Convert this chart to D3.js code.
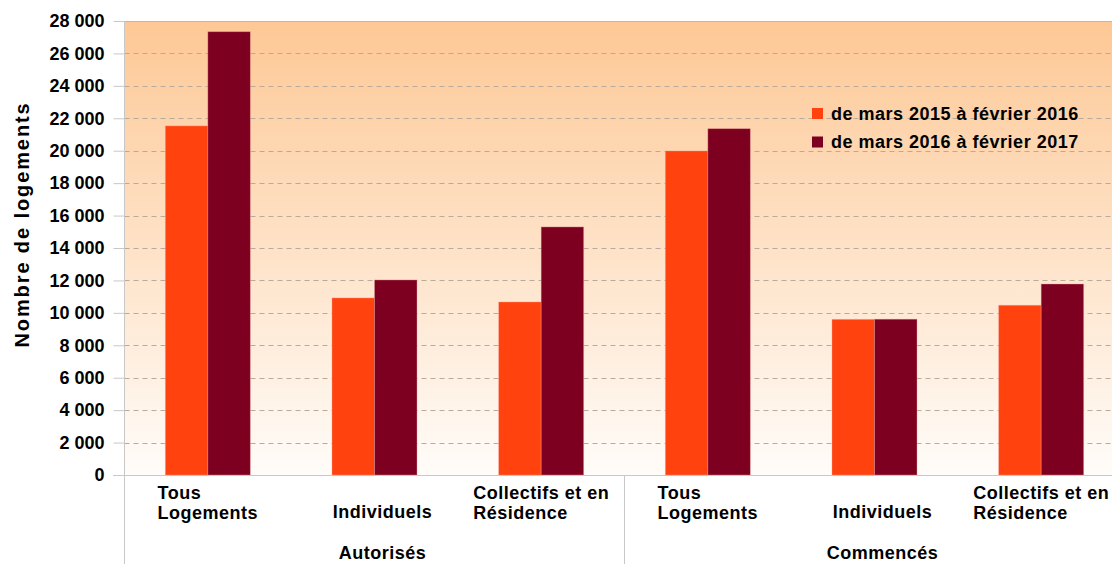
<!DOCTYPE html>
<html>
<head>
<meta charset="utf-8">
<script src="https://cdn.jsdelivr.net/npm/d3@7"></script>
<style>
  html, body { margin: 0; padding: 0; background: #ffffff; }
  svg { display: block; font-family: "Liberation Sans", Arial, sans-serif; }
</style>
</head>
<body>
<svg id="chart" width="1112" height="564"></svg>
<script>
// ---- data ----
const groups = ["Autorisés", "Commencés"];
const categories = [
  { group: "Autorisés", label: ["Tous", "Logements"] },
  { group: "Autorisés", label: ["Individuels"] },
  { group: "Autorisés", label: ["Collectifs et en", "Résidence"] },
  { group: "Commencés", label: ["Tous", "Logements"] },
  { group: "Commencés", label: ["Individuels"] },
  { group: "Commencés", label: ["Collectifs et en", "Résidence"] }
];
const seriesNames = ["de mars 2015 à février 2016", "de mars 2016 à février 2017"];
const series2015 = [21530, 10920, 10670, 19985, 9600, 10470];
const series2016 = [27340, 12030, 15300, 21360, 9610, 11780];
const yTicks = [0, 2000, 4000, 6000, 8000, 10000, 12000, 14000, 16000, 18000, 20000, 22000, 24000, 26000, 28000];
const colors = ["#ff420e", "#7e0021"];
const yTitle = "Nombre de logements";

// ---- layout ----
const svg = d3.select("#chart");
const plot = { left: 124.5, right: 1124.5, top: 21, bottom: 475 };

const x0 = d3.scaleBand().domain(d3.range(categories.length))
  .range([plot.left, plot.right]).paddingInner(0).paddingOuter(0);
const barGroupW = x0.bandwidth() * 0.51;
const x1 = d3.scaleBand().domain([0, 1]).range([0, barGroupW]).padding(0);
const y = d3.scaleLinear().domain([0, 28000]).range([plot.bottom, plot.top]);

// background gradient
const defs = svg.append("defs");
const grad = defs.append("linearGradient").attr("id", "bg")
  .attr("x1", 0).attr("y1", 0).attr("x2", 0).attr("y2", 1);
grad.append("stop").attr("offset", "0%").attr("stop-color", "#fdc895");
grad.append("stop").attr("offset", "100%").attr("stop-color", "#fffcf9");

svg.append("rect")
  .attr("x", plot.left).attr("y", plot.top)
  .attr("width", plot.right - plot.left).attr("height", plot.bottom - plot.top)
  .attr("fill", "url(#bg)");

// gridlines
svg.append("g").selectAll("line")
  .data(yTicks.filter(t => t > 0 && t < 28000))
  .join("line")
  .attr("x1", plot.left).attr("x2", plot.right)
  .attr("y1", d => Math.round(y(d)) + 0.5).attr("y2", d => Math.round(y(d)) + 0.5)
  .attr("stroke", "#b9aa9c").attr("stroke-width", 1)
  .attr("stroke-dasharray", "5,4");

// top border
svg.append("line")
  .attr("x1", plot.left).attr("x2", plot.right)
  .attr("y1", plot.top + 0.5).attr("y2", plot.top + 0.5)
  .attr("stroke", "#d2b394").attr("stroke-width", 1);

// y axis
const yAxis = d3.axisLeft(y).tickValues(yTicks).tickSize(11).tickPadding(9)
  .tickFormat(d => d3.format(",")(d).replace(/,/g, " "));
const gy = svg.append("g").attr("transform", `translate(${plot.left},0)`).call(yAxis);
gy.select(".domain").remove();
gy.selectAll(".tick line").attr("stroke", "#c8c8c8");
gy.selectAll(".tick text")
  .attr("font-size", 18).attr("font-weight", "bold").attr("fill", "#000")
  .attr("font-family", "Liberation Sans, Arial, sans-serif");

// bars
const data = categories.map((c, i) => ({ i, values: [series2015[i], series2016[i]] }));
const barG = svg.append("g").selectAll("g").data(data).join("g")
  .attr("transform", d => `translate(${x0(d.i) + (x0.bandwidth() - barGroupW) / 2},0)`);
barG.selectAll("rect").data(d => d.values.map((v, s) => ({ v, s })))
  .join("rect")
  .attr("x", d => x1(d.s))
  .attr("y", d => y(d.v))
  .attr("width", x1.bandwidth())
  .attr("height", d => y(0) - y(d.v))
  .attr("fill", d => colors[d.s])
  .attr("stroke", "#f2a6a0").attr("stroke-opacity", 0.45).attr("stroke-width", 0.8);

// axis lines
svg.append("line")
  .attr("x1", 113).attr("x2", plot.right)
  .attr("y1", plot.bottom + 0.5).attr("y2", plot.bottom + 0.5)
  .attr("stroke", "#c8c8c8");
svg.append("line")
  .attr("x1", plot.left).attr("x2", plot.left)
  .attr("y1", plot.top).attr("y2", 564)
  .attr("stroke", "#c8c8c8");
// group separators
const groupBounds = groups.map(g => {
  const idx = categories.map((c, i) => c.group === g ? i : -1).filter(i => i >= 0);
  return { g, x0: x0(idx[0]), x1: x0(idx[idx.length - 1]) + x0.bandwidth() };
});
svg.append("g").selectAll("line").data(groupBounds.slice(0, -1)).join("line")
  .attr("x1", d => d.x1).attr("x2", d => d.x1)
  .attr("y1", plot.bottom).attr("y2", 564)
  .attr("stroke", "#c8c8c8");

// category labels
const catG = svg.append("g").attr("font-size", 18).attr("font-weight", "bold")
  .attr("letter-spacing", "0.5px").attr("fill", "#000");
categories.forEach((c, i) => {
  const cx = x0(i) + x0.bandwidth() / 2;
  if (c.label.length === 1) {
    catG.append("text").attr("x", cx + 8).attr("y", 517.5)
      .attr("text-anchor", "middle").text(c.label[0]);
  } else {
    const t = catG.append("text").attr("x", 0).attr("y", 499);
    c.label.forEach((l, k) => {
      t.append("tspan").attr("x", 0).attr("y", 499 + k * 20).text(l);
    });
    const w = t.node().getBBox().width;
    t.selectAll("tspan").attr("x", cx - w / 2);
  }
});

// group labels
svg.append("g").selectAll("text").data(groupBounds).join("text")
  .attr("x", d => (d.x0 + d.x1) / 2 + 8).attr("y", 559)
  .attr("text-anchor", "middle")
  .attr("font-size", 18).attr("font-weight", "bold").attr("letter-spacing", "0.5px")
  .attr("fill", "#000").text(d => d.g);

// y title
svg.append("text")
  .attr("transform", "translate(28.5,224.5) rotate(-90)")
  .attr("text-anchor", "middle")
  .attr("font-size", 20).attr("font-weight", "bold").attr("letter-spacing", "1.9px")
  .attr("fill", "#000").text(yTitle);

// legend
const leg = svg.append("g").attr("transform", "translate(812,0)");
seriesNames.forEach((n, k) => {
  leg.append("rect").attr("x", 0).attr("y", 108 + k * 28.5)
    .attr("width", 11).attr("height", 11).attr("fill", colors[k]);
  leg.append("text").attr("x", 19).attr("y", 119.5 + k * 28)
    .attr("font-size", 18).attr("font-weight", "bold").attr("letter-spacing", "0.5px")
    .attr("fill", "#000").text(n);
});
</script>
</body>
</html>
